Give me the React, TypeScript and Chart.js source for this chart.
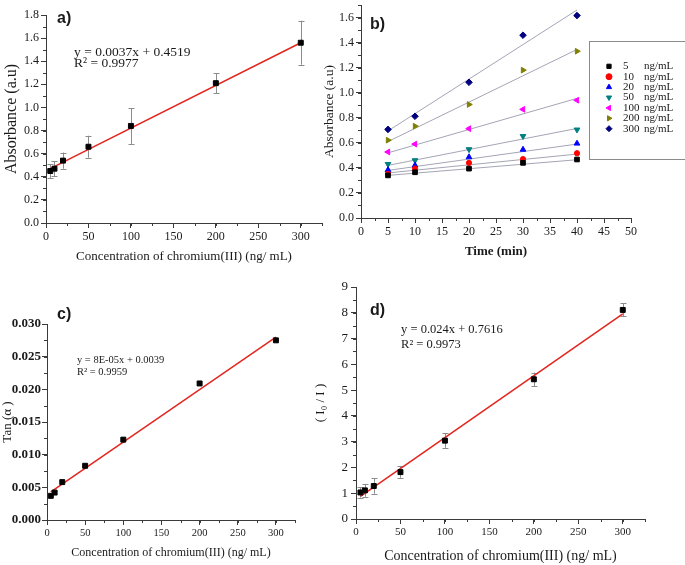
import React, { useEffect, useRef } from 'react';
import { Chart, registerables } from 'chart.js';
import { drawPoint } from 'chart.js/helpers';

Chart.register(...registerables);

const CW = 685;
const CH = 565;
const SERIF = '"Liberation Serif", "Times New Roman", serif';
const SANS = '"Liberation Sans", Arial, sans-serif';
const AXIS = '#3a3a3a';
const TEXT = '#1a1a1a';
const RED = '#e3261f';
const FIT_GRAY = '#a4a4b6';
const ERR_GRAY = '#8c8c8c';

// ---------- data ----------
const CONC = [5, 10, 20, 50, 100, 200, 300];
const FIT_X = [5, 300];

// a) absorbance vs concentration
const ABSORB = [0.45, 0.47, 0.54, 0.66, 0.84, 1.21, 1.56];
const ABSORB_ERR = [0.06, 0.065, 0.07, 0.095, 0.155, 0.085, 0.19];
const ABSORB_FIT = [0.47, 1.56];

// b) absorbance vs time
const TIME = [5, 10, 20, 30, 40];
const SERIES_LABELS = ['5', '10', '20', '50', '100', '200', '300'];
const KIN_5 = [0.34, 0.365, 0.394, 0.44, 0.467];
const KIN_10 = [0.352, 0.395, 0.44, 0.47, 0.517];
const KIN_20 = [0.384, 0.42, 0.486, 0.546, 0.595];
const KIN_50 = [0.43, 0.46, 0.548, 0.653, 0.705];
const KIN_100 = [0.527, 0.59, 0.713, 0.867, 0.94];
const KIN_200 = [0.621, 0.733, 0.906, 1.18, 1.331];
const KIN_300 = [0.707, 0.812, 1.083, 1.459, 1.616];
const KIN_FIT_X = [5, 40];
const KIN_FIT_START = [0.34, 0.36, 0.38, 0.42, 0.52, 0.61, 0.695];
const KIN_FIT_END = [0.465, 0.51, 0.59, 0.715, 0.955, 1.345, 1.66];
const KIN_COLORS = ['#000000', '#ff0000', '#0000ff', '#008080', '#ff00ff', '#808000', '#000080'];
const KIN_STYLES = ['rect', 'circle', 'triangle', 'triangle', 'triangle', 'triangle', 'rectRot'];
const KIN_ROT = [0, 0, 0, 180, -90, 90, 0];

// c) tan(alpha)
const TAN = [0.0037, 0.0042, 0.0058, 0.0083, 0.0123, 0.0209, 0.0275];
const TAN_FIT = [0.0043, 0.028];

// d) I0 / I
const RATIO = [1.03, 1.11, 1.28, 1.82, 3.04, 5.42, 8.11];
const RATIO_ERR = [0.2, 0.25, 0.3, 0.22, 0.28, 0.26, 0.25];
const RATIO_FIT = [0.88, 7.96];

const XTITLE_CONC = 'Concentration of chromium(III) (ng/ mL)';

// ---------- plugins ----------
const minorTicks = {
  id: 'minorTicks',
  afterDraw(chart: any, _a: any, opts: any) {
    const { ctx, chartArea, scales } = chart;
    ctx.save();
    ctx.strokeStyle = AXIS;
    ctx.lineWidth = 1;
    const xs = scales.x;
    const ys = scales.y;
    if (opts.x) {
      for (let i = 0; ; i++) {
        const v = xs.min + i * opts.x;
        if (v > xs.max + 1e-9) break;
        const px = Math.round(xs.getPixelForValue(v)) + 0.5;
        ctx.beginPath();
        ctx.moveTo(px, chartArea.bottom);
        ctx.lineTo(px, chartArea.bottom + 3);
        ctx.stroke();
      }
    }
    if (opts.y) {
      for (let i = 0; ; i++) {
        const v = ys.min + i * opts.y;
        if (v > ys.max + 1e-9) break;
        const py = Math.round(ys.getPixelForValue(v)) + 0.5;
        ctx.beginPath();
        ctx.moveTo(chartArea.left, py);
        ctx.lineTo(chartArea.left - 3, py);
        ctx.stroke();
      }
    }
    ctx.restore();
  },
};

const errorBars = {
  id: 'errorBars',
  beforeDatasetsDraw(chart: any, _a: any, opts: any) {
    if (!opts || !opts.values) return;
    const { ctx, scales } = chart;
    const ds = chart.data.datasets[opts.dataset];
    ctx.save();
    ctx.strokeStyle = ERR_GRAY;
    ctx.lineWidth = 1;
    ds.data.forEach((p: any, i: number) => {
      const e = opts.values[i];
      const x = Math.round(scales.x.getPixelForValue(p.x)) + 0.5;
      const y1 = scales.y.getPixelForValue(p.y - e);
      const y2 = scales.y.getPixelForValue(p.y + e);
      ctx.beginPath();
      ctx.moveTo(x, y1);
      ctx.lineTo(x, y2);
      ctx.moveTo(x - 3, Math.round(y1) + 0.5);
      ctx.lineTo(x + 3, Math.round(y1) + 0.5);
      ctx.moveTo(x - 3, Math.round(y2) + 0.5);
      ctx.lineTo(x + 3, Math.round(y2) + 0.5);
      ctx.stroke();
    });
    ctx.restore();
  },
};

const notes = {
  id: 'notes',
  afterDraw(chart: any, _a: any, opts: any) {
    if (!opts || !opts.items) return;
    const { ctx, scales } = chart;
    ctx.save();
    opts.items.forEach((n: any) => {
      ctx.font = n.font;
      ctx.fillStyle = n.color || TEXT;
      ctx.textAlign = 'left';
      ctx.textBaseline = 'middle';
      ctx.fillText(n.text, scales.x.getPixelForValue(n.x), scales.y.getPixelForValue(n.y));
    });
    ctx.restore();
  },
};

const kinLegend = {
  id: 'kinLegend',
  afterDraw(chart: any, _a: any, opts: any) {
    if (!opts || !opts.show) return;
    const { ctx, chartArea } = chart;
    const left = chartArea.right + opts.dx;
    const top = chartArea.top + opts.dy;
    ctx.save();
    ctx.strokeStyle = '#8a8a8a';
    ctx.lineWidth = 1;
    ctx.strokeRect(Math.round(left) + 0.5, Math.round(top) + 0.5, opts.w, opts.h);
    const items = chart.data.datasets.filter((d: any) => d.legendNum);
    ctx.font = `11px ${SERIF}`;
    ctx.textBaseline = 'middle';
    ctx.textAlign = 'left';
    items.forEach((d: any, i: number) => {
      const y = top + opts.firstRow + i * opts.rowGap;
      ctx.fillStyle = d.backgroundColor;
      ctx.strokeStyle = d.borderColor;
      drawPoint(ctx, { pointStyle: d.pointStyle, rotation: d.rotation || 0, radius: 3, borderWidth: 1 }, left + opts.markerX, y);
      ctx.fillStyle = TEXT;
      ctx.fillText(d.legendNum, left + opts.numX, y);
      ctx.fillText('ng/mL', left + opts.unitX, y);
    });
    ctx.restore();
  },
};

// ---------- config builder ----------
function pts(xs: number[], ys: number[]) {
  return xs.map((x, i) => ({ x, y: ys[i] }));
}

function axisCfg(a: any, title: string, titleFont: any, size: number, isX: boolean) {
  return {
    type: 'linear',
    min: a.min,
    max: a.max,
    ticks: {
      stepSize: a.step,
      includeBounds: false,
      autoSkip: false,
      maxRotation: 0,
      padding: a.pad ?? 2,
      color: TEXT,
      font: { family: SERIF, size: a.fontSize, weight: a.fontWeight || 'normal' },
      callback: (v: any) => Number(v).toFixed(a.decimals),
    },
    grid: { drawOnChartArea: false, drawTicks: true, tickLength: 5, tickColor: AXIS, tickWidth: 1 },
    border: { display: true, color: AXIS, width: 1 },
    title: {
      display: true,
      text: title,
      color: TEXT,
      padding: 0,
      font: { family: SERIF, lineHeight: 1.2, ...titleFont },
    },
    afterFit: (s: any) => {
      if (isX) s.height = size;
      else s.width = size;
      s.paddingLeft = 0;
      s.paddingRight = 0;
      s.paddingTop = 0;
      s.paddingBottom = 0;
    },
  };
}

function makeConfig(p: any) {
  const xLh = p.xTitleFont.size * 1.2;
  const yLh = p.yTitleFont.size * 1.2;
  const H = p.xTitleY + xLh / 2 - p.area.b;
  const left = Math.max(0, p.yTitleX - yLh / 2);
  const W = p.area.l - left;
  return {
    type: 'scatter',
    data: { datasets: p.datasets },
    options: {
      responsive: false,
      animation: false,
      events: [],
      layout: { padding: { left, top: p.area.t, right: CW - p.area.r, bottom: CH - p.area.b - H } },
      plugins: {
        legend: { display: false },
        tooltip: { enabled: false },
        minorTicks: { x: p.x.minor, y: p.y.minor },
        errorBars: p.errors || {},
        notes: { items: p.notes },
        kinLegend: p.legend || { show: false },
      },
      scales: {
        x: axisCfg(p.x, p.xTitle, p.xTitleFont, H, true),
        y: axisCfg(p.y, p.yTitle, p.yTitleFont, W, false),
      },
    },
    plugins: [minorTicks, errorBars, notes, kinLegend],
  };
}

function pointSet(data: any[], radius: number) {
  return {
    data,
    showLine: false,
    pointStyle: 'rect',
    pointRadius: radius,
    backgroundColor: '#000',
    borderColor: '#000',
    pointBorderWidth: 1,
  };
}

function lineSet(data: any[], color: string, width: number) {
  return {
    data,
    showLine: true,
    borderColor: color,
    borderWidth: width,
    pointRadius: 0,
    fill: false,
  };
}

const LABEL_FONT = `bold 16px ${SANS}`;

function panelA() {
  return makeConfig({
    area: { l: 46, t: 15, r: 322, b: 223 },
    x: { min: 0, max: 325, step: 50, minor: 25, fontSize: 12, decimals: 0 },
    y: { min: 0, max: 1.8, step: 0.2, minor: 0.1, fontSize: 12, decimals: 1 },
    xTitle: XTITLE_CONC,
    xTitleFont: { size: 13 },
    xTitleY: 257,
    yTitle: 'Absorbance (a.u)',
    yTitleFont: { size: 16 },
    yTitleX: 12,
    datasets: [pointSet(pts(CONC, ABSORB), 3.5), lineSet(pts(FIT_X, ABSORB_FIT), RED, 1.5)],
    errors: { dataset: 0, values: ABSORB_ERR },
    notes: [
      { text: 'a)', x: 13, y: 1.765, font: LABEL_FONT },
      { text: 'y = 0.0037x + 0.4519', x: 33, y: 1.48, font: `13.5px ${SERIF}` },
      { text: 'R² = 0.9977', x: 33, y: 1.385, font: `13.5px ${SERIF}` },
    ],
  });
}

function panelB() {
  const series = [KIN_5, KIN_10, KIN_20, KIN_50, KIN_100, KIN_200, KIN_300];
  const pointSets = series.map((s, i) => ({
    data: pts(TIME, s),
    showLine: false,
    pointStyle: KIN_STYLES[i],
    rotation: KIN_ROT[i],
    pointRadius: KIN_STYLES[i] === 'circle' ? 2.6 : 3.3,
    backgroundColor: KIN_COLORS[i],
    borderColor: KIN_COLORS[i],
    pointBorderWidth: 1,
    legendNum: SERIES_LABELS[i],
  }));
  const fitSets = series.map((_s, i) => lineSet(pts(KIN_FIT_X, [KIN_FIT_START[i], KIN_FIT_END[i]]), FIT_GRAY, 1));
  return makeConfig({
    area: { l: 361, t: 1, r: 631, b: 218 },
    x: { min: 0, max: 50, step: 5, minor: 2.5, fontSize: 12, decimals: 0 },
    y: { min: 0, max: 1.7, step: 0.2, minor: 0.1, fontSize: 12, decimals: 1 },
    xTitle: 'Time (min)',
    xTitleFont: { size: 13, weight: 'bold' },
    xTitleY: 252,
    yTitle: 'Absorbance (a.u)',
    yTitleFont: { size: 13.5 },
    yTitleX: 329,
    datasets: [...pointSets, ...fitSets],
    notes: [{ text: 'b)', x: 1.67, y: 1.543, font: LABEL_FONT }],
    legend: { show: true, dx: -42, dy: 36, w: 130, h: 118, markerX: 20, numX: 34, unitX: 55, firstRow: 25.3, rowGap: 10.4 },
  });
}

function panelC() {
  return makeConfig({
    area: { l: 47, t: 324, r: 295, b: 520 },
    x: { min: 0, max: 325, step: 50, minor: 25, fontSize: 10.5, decimals: 0 },
    y: { min: 0, max: 0.03, step: 0.005, minor: 0.0025, fontSize: 13, fontWeight: 'bold', decimals: 3, pad: 1 },
    xTitle: XTITLE_CONC,
    xTitleFont: { size: 12 },
    xTitleY: 553,
    yTitle: 'Tan (α )',
    yTitleFont: { size: 13 },
    yTitleX: 8,
    datasets: [pointSet(pts(CONC, TAN), 3.5), lineSet(pts(FIT_X, TAN_FIT), RED, 1.5)],
    notes: [
      { text: 'c)', x: 13.1, y: 0.03138, font: LABEL_FONT },
      { text: 'y = 8E-05x + 0.0039', x: 39.3, y: 0.02449, font: `10.5px ${SERIF}` },
      { text: 'R² = 0.9959', x: 39.3, y: 0.02265, font: `10.5px ${SERIF}` },
    ],
  });
}

function panelD() {
  return makeConfig({
    area: { l: 356, t: 287, r: 645, b: 519 },
    x: { min: 0, max: 325, step: 50, minor: 25, fontSize: 11, decimals: 0 },
    y: { min: 0, max: 9, step: 1, minor: 0.5, fontSize: 13, decimals: 0, pad: 3 },
    xTitle: XTITLE_CONC,
    xTitleFont: { size: 14 },
    xTitleY: 556,
    yTitle: '( I₀ / I )',
    yTitleFont: { size: 13 },
    yTitleX: 321,
    datasets: [pointSet(pts(CONC, RATIO), 3.5), lineSet(pts(FIT_X, RATIO_FIT), RED, 1.5)],
    errors: { dataset: 0, values: RATIO_ERR },
    notes: [
      { text: 'd)', x: 15.8, y: 8.07, font: LABEL_FONT },
      { text: 'y = 0.024x + 0.7616', x: 50.7, y: 7.33, font: `12.5px ${SERIF}` },
      { text: 'R² = 0.9973', x: 50.7, y: 6.75, font: `12.5px ${SERIF}` },
    ],
  });
}

export default function App() {
  const refA = useRef<HTMLCanvasElement>(null);
  const refB = useRef<HTMLCanvasElement>(null);
  const refC = useRef<HTMLCanvasElement>(null);
  const refD = useRef<HTMLCanvasElement>(null);

  useEffect(() => {
    const charts = [
      new Chart(refA.current as any, panelA() as any),
      new Chart(refB.current as any, panelB() as any),
      new Chart(refC.current as any, panelC() as any),
      new Chart(refD.current as any, panelD() as any),
    ];
    return () => charts.forEach((c) => c.destroy());
  }, []);

  const cs: React.CSSProperties = { position: 'absolute', left: 0, top: 0, width: CW, height: CH };
  return (
    <div style={{ position: 'absolute', left: 0, top: 0, width: CW, height: CH, background: '#fff', overflow: 'hidden' }}>
      <canvas ref={refA} width={CW} height={CH} style={cs} />
      <canvas ref={refB} width={CW} height={CH} style={cs} />
      <canvas ref={refC} width={CW} height={CH} style={cs} />
      <canvas ref={refD} width={CW} height={CH} style={cs} />
    </div>
  );
}
